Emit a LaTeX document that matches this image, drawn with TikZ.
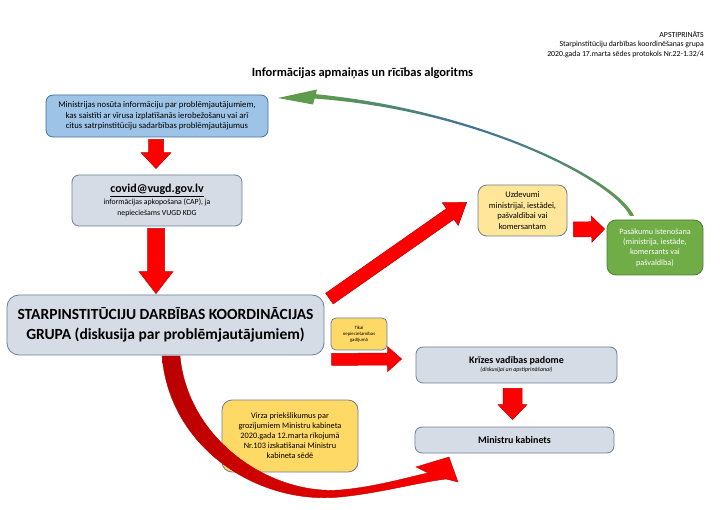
\documentclass[tikz,border=0pt]{standalone}
\usepackage{fontspec}
\setmainfont{Carlito}
\usetikzlibrary{calc,arrows.meta}
\definecolor{boxblue}{HTML}{9DC3E6}
\definecolor{boxgray}{HTML}{D6DCE5}
\definecolor{boxyel}{HTML}{FFE699}
\definecolor{boxyeltwo}{HTML}{FFD966}
\definecolor{boxgreen}{HTML}{70AD47}
\definecolor{greenedge}{HTML}{507E32}
\definecolor{edgeblue}{HTML}{41719C}
\definecolor{edgegray}{HTML}{6E7F99}
\definecolor{arrred}{HTML}{FF0000}
\definecolor{arredge}{HTML}{C00000}
\definecolor{darkred}{HTML}{B80000}
\definecolor{curvegreen}{HTML}{5E9B4A}
\newcommand\blockarr[5]{%
  \coordinate (ba) at (#1);
  \coordinate (bb) at (#2);
  \coordinate (bh) at ($(bb)!#5!(ba)$);
  \filldraw[redarrow] ($(ba)!#3!90:(bb)$) -- ($(bh)!#3!-90:(ba)$) -- ($(bh)!#4!-90:(ba)$) -- (bb) -- ($(bh)!#4!90:(ba)$) -- ($(bh)!#3!90:(ba)$) -- ($(ba)!#3!-90:(bb)$) -- cycle;}
\begin{document}
\begin{tikzpicture}[x=1pt,y=-1pt,
  box/.style={draw=edgegray, line width=0.8pt, rounded corners=7pt, align=center, inner sep=2pt, fill=boxgray},
  redarrow/.style={fill=arrred, draw=arredge, line width=0.5pt, line join=miter}]
\useasboundingbox (0,0) rectangle (720,510);
\fill[white] (0,0) rectangle (720,510);

% header
\node[anchor=east, align=right, font=\fontsize{7.8}{9.3}\selectfont, inner sep=0pt] (hdr) at (704,44.5)
  {APSTIPRINĀTS\\ Starpinstitūciju darbības koordinēšanas grupa\\ 2020.gada 17.marta sēdes protokols Nr.22-1.32/4};
\node[font=\fontsize{12.5}{15}\selectfont\bfseries, inner sep=0pt] (title) at (362.5,73)
  {Informācijas apmaiņas un rīcības algoritms};

% boxes
\node[box, fill=boxblue, draw=edgeblue, minimum width=222pt, minimum height=42pt, font=\fontsize{8.7}{10.5}\selectfont] (b1) at (157,116)
  {Ministrijas nosūta informāciju par problēmjautājumiem,\\ kas saistīti ar vīrusa izplatīšanās ierobežošanu vai arī\\ citus satrpinstitūciju sadarbības problēmjautājumus};
\node[box, minimum width=170pt, minimum height=51pt, font=\fontsize{7.8}{10.8}\selectfont] (b2) at (157,200.5)
  {{\fontsize{12}{14}\selectfont\bfseries\underline{covid@vugd.gov.lv}}\\[1pt] informācijas apkopošana (CAP), ja\\ nepieciešams VUGD KDG};
\node[box, rounded corners=12pt, minimum width=317pt, minimum height=60pt, font=\fontsize{15.5}{20}\selectfont\bfseries] (big) at (165.5,325)
  {STARPINSTITŪCIJU DARBĪBAS KOORDINĀCIJAS\\ GRUPA (diskusija par problēmjautājumiem)};
\node[box, fill=boxyeltwo, rounded corners=5pt, minimum width=56pt, minimum height=32pt, font=\fontsize{4.8}{6}\selectfont] (tikai) at (359,334)
  {Tikai\\ nepieciešamības\\ gadījumā};
\node[box, fill=boxyel, rounded corners=9pt, minimum width=89pt, minimum height=51pt, font=\fontsize{8.5}{10.8}\selectfont] (uzd) at (522.5,210.5)
  {Uzdevumi\\ ministrijai, iestādei,\\ pašvaldībai vai\\ komersantam};
\node[box, fill=boxgreen, draw=greenedge, text=white, rounded corners=9pt, minimum width=96pt, minimum height=55pt, font=\fontsize{8.2}{10.3}\selectfont] (grn) at (655,247.5)
  {Pasākumu īstenošana\\ (ministrija, iestāde,\\ komersants vai\\ pašvaldība)};
\node[box, minimum width=201pt, minimum height=36pt, font=\fontsize{6}{9}\selectfont] (kriz) at (516.5,365)
  {{\fontsize{10}{12}\selectfont\bfseries Krīzes vadības padome}\\[-1pt] \itshape (diskusijai un apstiprināšanai)};
\node[box, minimum width=199pt, minimum height=26pt, font=\fontsize{10}{12}\selectfont\bfseries] (mk) at (514.5,440)
  {Ministru kabinets};
\node[box, fill=boxyeltwo, rounded corners=10pt, minimum width=136pt, minimum height=72pt, font=\fontsize{8.3}{10}\selectfont] (virza) at (290,436)
  {Virza priekšlikumus par\\ grozījumiem Ministru kabineta\\ 2020.gada 12.marta rīkojumā\\ Nr.103 izskatīšanai Ministru\\ kabineta sēdē};

% straight block arrows
\blockarr{$(b1.south)+(-1,2)$}{$(b2.north)+(-1,-6)$}{7.5pt}{15pt}{16pt}
\blockarr{$(b2.south)+(-1,2)$}{$(big.north)+(-9.5,-1)$}{8.5pt}{17pt}{22pt}
\blockarr{$(big.north east)+(5,4)$}{$(uzd.west)+(-11,-8)$}{6.5pt}{14pt}{20pt}
\blockarr{$(uzd.east)+(6,19)$}{$(grn.west)+(-2,-18.5)$}{7.5pt}{13pt}{13pt}
\blockarr{$(tikai.south west)+(1,9)$}{$(kriz.west)+(-14,-6)$}{6pt}{12.5pt}{14pt}
\blockarr{$(kriz.south)+(-4,5)$}{$(mk.north)+(-2,-7)$}{9.5pt}{14.5pt}{15pt}

% curved red arrow from the group to the cabinet
\shade[left color=darkred, right color=arrred, draw=arredge, line width=0.4pt, line join=miter]
  (162,356) .. controls (170,450) and (260,505) .. (340,497)
  .. controls (380,493) and (415,483) .. (446,479) -- (458,482) -- (449,457) -- (416,467) -- (428,473)
  .. controls (405,478) and (375,487) .. (340,490)
  .. controls (270,495) and (188,440) .. (180,356) -- cycle;

% curved green arrow back to the ministries
\shade[left color=curvegreen, right color=curvegreen, middle color=edgeblue]
  (634,216) .. controls (617,179) and (480,110) .. (314,94) -- (314,98.5)
  .. controls (480,110.5) and (613,181) .. (630,216) -- cycle;
\fill[curvegreen] (278,98) -- (317,89.5) -- (313,104.5) -- cycle;
\end{tikzpicture}
\end{document}
